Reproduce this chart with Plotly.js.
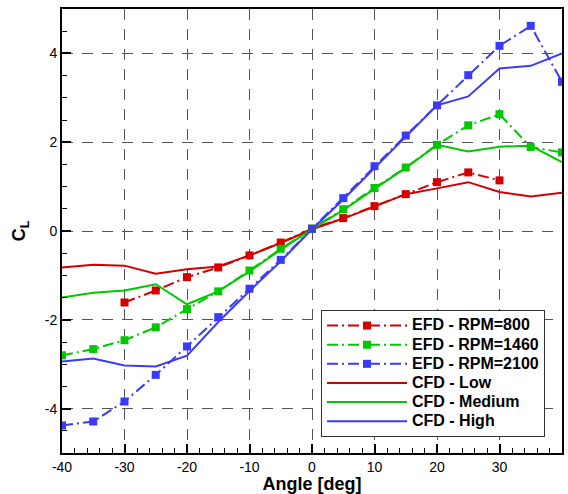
<!DOCTYPE html>
<html>
<head>
<meta charset="utf-8">
<script src="https://cdn.plot.ly/plotly-3.0.1.min.js"></script>
<style>html,body{margin:0;padding:0;background:#fff;}#chart{width:568px;height:494px;}</style>
</head>
<body>
<div id="chart"></div>
<script>
var angles = [-40,-35,-30,-25,-20,-15,-10,-5,0,5,10,15,20,25,30,35,40];
var anglesEfd800 = [-30,-25,-20,-15,-10,-5,0,5,10,15,20,25,30];
var efd800  = [-1.61,-1.34,-1.04,-0.82,-0.55,-0.26,0.05,0.29,0.56,0.83,1.10,1.32,1.14];
var efd1460 = [-2.80,-2.66,-2.46,-2.17,-1.76,-1.36,-0.89,-0.40,0.05,0.49,0.97,1.43,1.94,2.38,2.63,1.89,1.77];
var efd2100 = [-4.38,-4.29,-3.84,-3.24,-2.60,-1.94,-1.30,-0.65,0.05,0.74,1.46,2.15,2.83,3.51,4.17,4.62,3.36];
var cfdLow    = [-0.82,-0.76,-0.78,-0.96,-0.86,-0.80,-0.55,-0.27,0.04,0.28,0.55,0.83,0.96,1.10,0.88,0.78,0.86];
var cfdMedium = [-1.50,-1.39,-1.34,-1.20,-1.65,-1.36,-0.91,-0.42,0.04,0.47,0.95,1.42,1.94,1.79,1.90,1.92,1.55];
var cfdHigh   = [-2.94,-2.87,-3.03,-3.05,-2.81,-2.05,-1.35,-0.68,0.04,0.71,1.42,2.12,2.83,3.03,3.66,3.72,4.00];
var seriesNames = ["EFD - RPM=800","EFD - RPM=1460","EFD - RPM=2100","CFD - Low","CFD - Medium","CFD - High"];
var xTickVals = [-40,-30,-20,-10,0,10,20,30,40];
var xTickText = ["-40","-30","-20","-10","0","10","20","30","40"];
var yTickVals = [-4,-2,0,2,4];
var yTickText = ["-4","-2","0","2","4"];

var RED = "#d40000", GREEN = "#00c800", BLUE = "#3a3aff";
var DASHDOT = "11px,4px,2px,4px";

function lg(name) { return '<span style="font-size:16px">' + name + '</span>'; }
function efd(name, x, y, c) {
  return {x: x, y: y, name: lg(name), type: "scatter", mode: "lines+markers",
    line: {color: c, width: 2, dash: DASHDOT},
    marker: {symbol: "square", size: 8, color: c}};
}
function cfd(name, y, c) {
  return {x: angles, y: y, name: lg(name), type: "scatter", mode: "lines",
    line: {color: c, width: 2}};
}
var traces = [
  efd(seriesNames[0], anglesEfd800, efd800, RED),
  efd(seriesNames[1], angles, efd1460, GREEN),
  efd(seriesNames[2], angles, efd2100, BLUE),
  cfd(seriesNames[3], cfdLow, RED),
  cfd(seriesNames[4], cfdMedium, GREEN),
  cfd(seriesNames[5], cfdHigh, BLUE)
];

var FONT = "Liberation Sans, Arial, Helvetica, sans-serif";
var layout = {
  width: 568, height: 494,
  margin: {l: 62, r: 6, t: 9, b: 41},
  paper_bgcolor: "#fff", plot_bgcolor: "#fff",
  font: {family: FONT, size: 14, color: "#000"},
  showlegend: true,
  legend: {
    x: 0.518, y: 0.322, xanchor: "left", yanchor: "top",
    bgcolor: "#fff", bordercolor: "#333", borderwidth: 1,
    font: {family: FONT, size: 12.4, color: "#000", weight: "bold"},
    itemwidth: 80, tracegroupgap: 0
  },
  xaxis: {
    range: [-40, 40], tickvals: xTickVals, ticktext: xTickText,
    ticks: "inside", ticklen: 9, tickwidth: 2, tickcolor: "#000",
    showline: true, linewidth: 2, linecolor: "#000", mirror: true,
    showgrid: true, gridcolor: "#555", gridwidth: 1, griddash: "11px,9px",
    zeroline: false,
    minor: {dtick: 2, ticks: "inside", ticklen: 5, tickwidth: 1, tickcolor: "#000", showgrid: false},
    tickfont: {size: 14},
    title: {text: "Angle [deg]", font: {size: 18, weight: "bold"}, standoff: 2}
  },
  yaxis: {
    range: [-5, 5], tickvals: yTickVals, ticktext: yTickText,
    ticks: "inside", ticklen: 9, tickwidth: 2, tickcolor: "#000",
    showline: true, linewidth: 2, linecolor: "#000", mirror: true,
    showgrid: true, gridcolor: "#555", gridwidth: 1, griddash: "11px,9px",
    zeroline: false,
    minor: {dtick: 0.5, ticks: "inside", ticklen: 5, tickwidth: 1, tickcolor: "#000", showgrid: false},
    tickfont: {size: 14},
    title: {text: "C<sub>L</sub>", font: {size: 18, weight: "bold"}, standoff: 14}
  }
};
Plotly.newPlot("chart", traces, layout, {staticPlot: true, displayModeBar: false});
</script>
</body>
</html>
